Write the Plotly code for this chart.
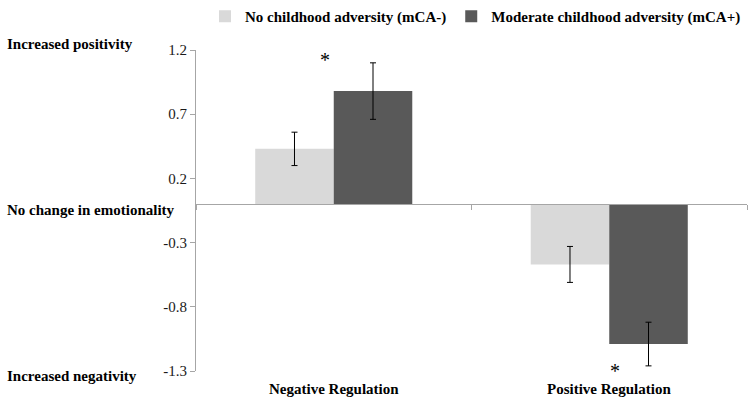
import plotly.graph_objects as go

categories = ["Negative Regulation", "Positive Regulation"]
series_names = ["No childhood adversity (mCA-)", "Moderate childhood adversity (mCA+)"]
values_mca_minus = [0.43, -0.47]
errors_mca_minus = [0.13, 0.14]
values_mca_plus = [0.88, -1.09]
errors_mca_plus = [0.22, 0.17]
tick_values = [1.2, 0.7, 0.2, -0.3, -0.8, -1.3]
tick_labels = ["1.2", "0.7", "0.2", "-0.3", "-0.8", "-1.3"]
star_positions = [1.12, -1.29]
side_labels = ["Increased positivity", "No change in emotionality", "Increased negativity"]
side_label_values = [1.2, 0.0, -1.3]

y_min, y_max = -1.3, 1.2
serif = "Liberation Serif"

fig = go.Figure()
fig.add_trace(go.Bar(
    x=categories, y=values_mca_minus, name=series_names[0],
    marker=dict(color="#d9d9d9", line=dict(width=0)),
    error_y=dict(type="data", array=errors_mca_minus, color="#000000", thickness=1, width=3),
))
fig.add_trace(go.Bar(
    x=categories, y=values_mca_plus, name=series_names[1],
    marker=dict(color="#595959", line=dict(width=0)),
    error_y=dict(type="data", array=errors_mca_plus, color="#000000", thickness=1, width=3),
))

zero_pos = (0 - y_min) / (y_max - y_min)

fig.update_layout(
    width=755, height=403,
    margin=dict(l=196, r=8, t=50, b=32, autoexpand=False),
    paper_bgcolor="white", plot_bgcolor="white",
    barmode="group", bargap=0.43, bargroupgap=0,
    font=dict(family=serif, size=15, color="#000000"),
    showlegend=True,
    legend=dict(
        orientation="h", x=0.0163, xanchor="left", y=1.0, yanchor="top",
        yref="container", xref="paper",
        font=dict(family=serif, size=15, color="#000000", weight="bold"),
        bgcolor="rgba(0,0,0,0)", itemsizing="constant",
    ),
    xaxis=dict(
        type="category", anchor="free", position=zero_pos,
        showline=True, linecolor="#a6a6a6", linewidth=1,
        ticks="outside", tickson="boundaries", ticklen=5, tickcolor="#a6a6a6",
        showticklabels=False, showgrid=False, zeroline=False,
    ),
    yaxis=dict(
        range=[y_min, y_max], tickmode="array", tickvals=tick_values, ticktext=tick_labels,
        showline=True, linecolor="#a6a6a6", linewidth=1,
        ticks="outside", ticklen=5, tickcolor="#a6a6a6",
        showgrid=False, zeroline=False,
        tickfont=dict(family=serif, size=15, color="#1a1a1a"),
    ),
)

for cat, yv in zip(categories, star_positions):
    fig.add_annotation(x=cat, y=yv, xref="x", yref="y", text="*", showarrow=False,
                       xshift=-9 if yv > 0 else 6, yshift=0 if yv > 0 else -1,
                       font=dict(family=serif, size=20, color="#000000"))

for cat in categories:
    fig.add_annotation(x=cat, y=0, xref="x", yref="paper", text=cat, showarrow=False,
                       yanchor="middle", yshift=-18,
                       font=dict(family=serif, size=15, color="#000000", weight="bold"))

shifts = [6, -6, -5]
for lbl, yv, sh in zip(side_labels, side_label_values, shifts):
    fig.add_annotation(x=0, y=yv, xref="paper", yref="y", text=lbl, showarrow=False,
                       xanchor="left", yanchor="middle", xshift=-191, yshift=sh,
                       font=dict(family=serif, size=15, color="#000000", weight="bold"))

fig.write_html("out.html", config={"displayModeBar": False},
               post_script="document.body.style.margin='0';")
